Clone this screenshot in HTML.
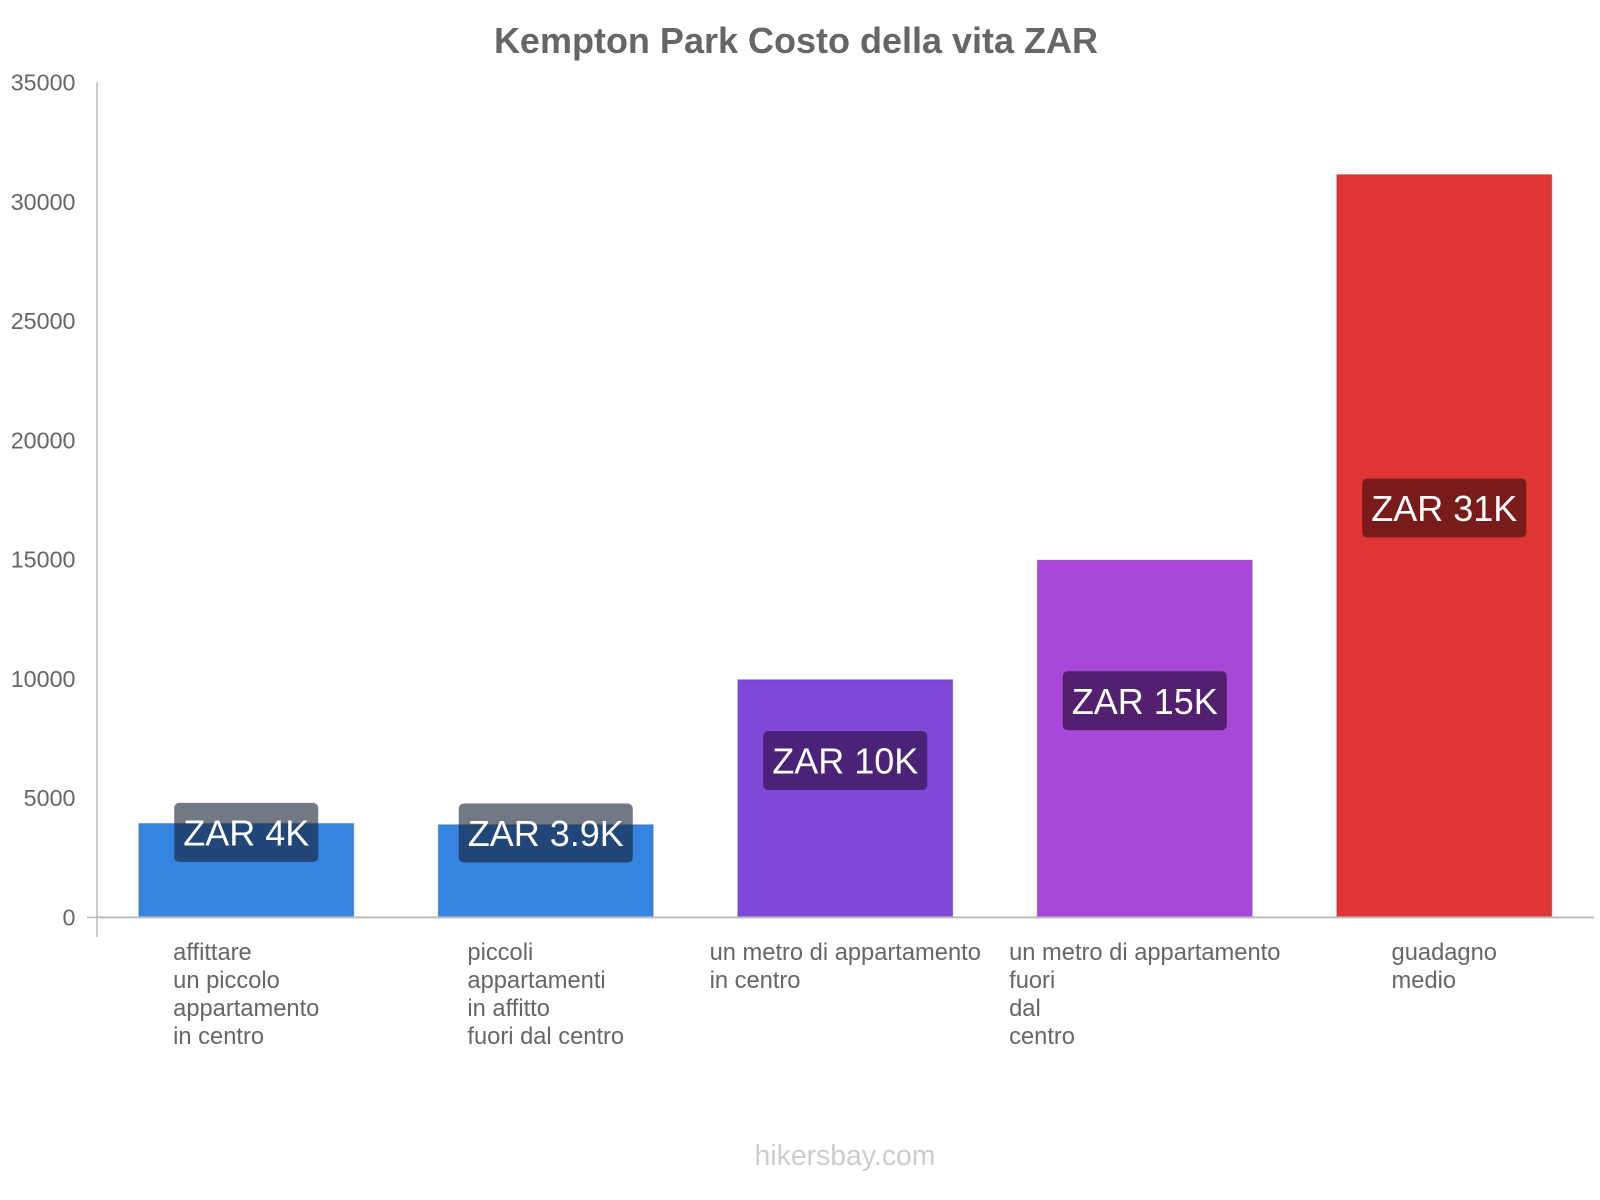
<!DOCTYPE html>
<html><head><meta charset="utf-8"><style>
html,body{margin:0;padding:0;background:#fff}
svg{display:block;font-family:"Liberation Sans",sans-serif}
</style></head><body>
<svg id="chart" width="1600" height="1200">
<text x="796" y="53" text-anchor="middle" font-size="36" font-weight="bold" fill="#666">Kempton Park Costo della vita ZAR</text>
<text x="845" y="1165" text-anchor="middle" font-size="28.4" fill="#ccc">hikersbay.com</text>
<g id="plot"></g>
</svg>
<script>
const categories = [["affittare","un piccolo","appartamento","in centro"],["piccoli","appartamenti","in affitto","fuori dal centro"],["un metro di appartamento","in centro"],["un metro di appartamento","fuori","dal","centro"],["guadagno","medio"]];
const values = [3940, 3890, 9970, 14980, 31150];
const valueLabels = ["ZAR 4K","ZAR 3.9K","ZAR 10K","ZAR 15K","ZAR 31K"];
const yTicks = [0,5000,10000,15000,20000,25000,30000,35000];
const colors = ["#3584e0","#3584e0","#8048d8","#a848d8","#e03535"];
const labelBg = ["rgba(20,30,50,0.6)","rgba(20,30,50,0.6)","#4a2277","#52206e","#7a1b1b"];
const NS="http://www.w3.org/2000/svg";
const g=document.getElementById('plot');
const y0=917.4, yTop=82.7, yMax=35000;
const y=v=>y0-(v/yMax)*(y0-yTop);
const bandStart=96.5, band=299.5, barW=215;
const xc=i=>bandStart+band*(i+0.5);
function mk(t,a){const e=document.createElementNS(NS,t);for(const k in a)e.setAttribute(k,a[k]);g.appendChild(e);return e;}
yTicks.forEach(t=>{
  const e=mk('text',{x:75.5,y:y(t)+8,'text-anchor':'end','font-size':23.3,fill:'#666'});
  e.textContent=t;
  
  
});
const ax=mk('line',{x1:97,y1:82,x2:97,y2:937,stroke:'#bbb','stroke-width':1.5});


const tk=mk('line',{x1:87,y1:y0,x2:97,y2:y0,stroke:'#bbb','stroke-width':1.5});


values.forEach((v,i)=>{
  const r=mk('rect',{x:xc(i)-barW/2,y:y(v),width:barW,height:y0-y(v),fill:colors[i],stroke:'rgba(0,0,0,0.12)','stroke-width':1.5});
  
  
});
const xa=mk('line',{x1:97,y1:y0,x2:1594,y2:y0,stroke:'#bbb','stroke-width':2});


values.forEach((v,i)=>{
  const cy=(y(v)+y0)/2-38;
  const t=mk('text',{x:xc(i),y:cy+13,'text-anchor':'middle','font-size':36,fill:'#fff'});
  t.textContent=valueLabels[i];
  const w=t.getComputedTextLength()+18;
  const r=document.createElementNS(NS,'rect');
  r.setAttribute('x',xc(i)-w/2);r.setAttribute('y',cy-29.5);r.setAttribute('width',w);r.setAttribute('height',59);
  r.setAttribute('rx',5);r.setAttribute('fill',labelBg[i]);
  g.insertBefore(r,t);
  
  
  
  
});
categories.forEach((lines,i)=>{
  const t=mk('text',{'font-size':23.7,fill:'#666'});
  
  
  let maxw=0;
  const spans=lines.map((l,j)=>{const s=document.createElementNS(NS,'tspan');s.setAttribute('y',960+j*28);s.textContent=l;t.appendChild(s);return s;});
  spans.forEach(s=>{maxw=Math.max(maxw,s.getComputedTextLength());});
  spans.forEach(s=>s.setAttribute('x',xc(i)-maxw/2));
});
</script>
</body></html>
